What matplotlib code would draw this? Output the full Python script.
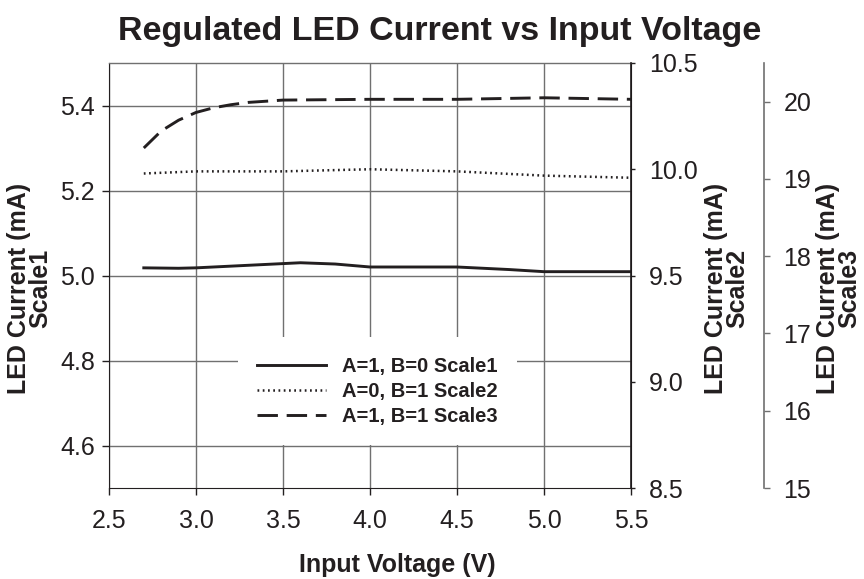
import matplotlib
matplotlib.use("Agg")
import matplotlib.pyplot as plt

# ---- data ----
# Scale1 (left axis): A=1, B=0
vin1 = [2.7, 2.9, 3.0, 3.3, 3.6, 3.8, 4.0, 4.5, 4.8, 5.0, 5.5]
led1 = [5.018, 5.017, 5.018, 5.024, 5.030, 5.027, 5.020, 5.020, 5.014, 5.009, 5.009]

# Scale2 (right axis): A=0, B=1
vin2 = [2.7, 3.0, 3.5, 4.0, 4.5, 5.0, 5.5]
led2 = [9.98, 9.99, 9.99, 10.0, 9.99, 9.97, 9.96]

# Scale3 (outer right axis): A=1, B=1
vin3 = [2.7, 2.8, 2.9, 3.0, 3.1, 3.2, 3.3, 3.5, 4.0, 4.5, 5.0, 5.5]
led3 = [19.40, 19.62, 19.76, 19.86, 19.92, 19.96, 19.99, 20.02, 20.03, 20.03, 20.05, 20.03]

xticks = [2.5, 3.0, 3.5, 4.0, 4.5, 5.0, 5.5]
yticks1 = [4.6, 4.8, 5.0, 5.2, 5.4]
yticks2 = [8.5, 9.0, 9.5, 10.0, 10.5]
yticks3 = [15, 16, 17, 18, 19, 20]

labels = ["A=1, B=0 Scale1", "A=0, B=1 Scale2", "A=1, B=1 Scale3"]

tickfont = ["Liberation Sans Narrow", "Liberation Sans"]
boldfont = ["Liberation Sans", "DejaVu Sans"]
ink = "#231f20"
gridc = "#707070"

fig = plt.figure(figsize=(8.64, 5.79), dpi=100)
ax1 = fig.add_axes([109/864, 1-488/579, 522/864, 425/579])
ax2 = ax1.twinx()
ax3 = ax1.twinx()
ax3.spines["right"].set_position(("axes", 1.255))

# lines
l1, = ax1.plot(vin1, led1, color=ink, lw=2.1, linestyle="-")
l2, = ax2.plot(vin2, led2, color=ink, lw=1.8, linestyle=(0, (0.7, 1.4)))
l3, = ax3.plot(vin3, led3, color=ink, lw=2.1, linestyle=(0, (7, 3)))

ax1.set_xlim(2.5, 5.5)
ax1.set_ylim(4.5, 5.5)
ax2.set_ylim(8.5, 10.5)
ax3.set_ylim(15, 20.5)

ax1.set_xticks(xticks)
ax1.set_xticklabels(["%.1f" % v for v in xticks])
ax1.set_yticks(yticks1)
ax1.set_yticklabels(["%.1f" % v for v in yticks1])
ax2.set_yticks(yticks2)
ax2.set_yticklabels(["%.1f" % v for v in yticks2])
ax3.set_yticks(yticks3)
ax3.set_yticklabels([str(v) for v in yticks3])

# grid only from the left scale
ax1.grid(True, color=gridc, lw=1.0)
ax1.set_axisbelow(True)

for ax in (ax1, ax2, ax3):
    ax.tick_params(direction="out", length=5, width=1.0, color=ink, labelsize=18, labelcolor=ink, pad=5)
    for t in ax.get_xticklabels() + ax.get_yticklabels():
        t.set_family(tickfont)
ax1.tick_params(axis="x", pad=10)
ax2.tick_params(axis="y", length=3, pad=10)
ax3.tick_params(axis="y", length=4, color=gridc, pad=10)

ax1.spines["left"].set_color(ink)
ax1.spines["bottom"].set_color(ink)
ax1.spines["top"].set_color(gridc)
ax1.spines["top"].set_linewidth(1.0)
ax2.spines["right"].set_color(ink)
ax2.spines["right"].set_linewidth(1.2)
ax3.spines["right"].set_color(gridc)
ax3.spines["right"].set_linewidth(1.2)
for ax in (ax2, ax3):
    ax.spines["top"].set_visible(False)
    ax.spines["left"].set_visible(False)
    ax.spines["bottom"].set_visible(False)

# legend sits over the grid, white box without border
leg = ax3.legend([l1, l2, l3], labels, loc="center", bbox_to_anchor=(0.514, 0.228),
                 frameon=True, fancybox=False, framealpha=1, edgecolor="none",
                 handlelength=3.4, handletextpad=0.8, labelspacing=0.3, borderpad=0.95,
                 prop={"family": boldfont, "weight": "bold", "size": 14.5})
for t in leg.get_texts():
    t.set_color(ink)

# titles and axis labels
fig.text(0.509, 1-40/579, "Regulated LED Current vs Input Voltage", ha="center", va="baseline",
         fontsize=24.5, fontweight="bold", family=boldfont, color=ink)
fig.text(397/864, 7/579, "Input Voltage (V)", ha="center", va="baseline",
         fontsize=18, fontweight="bold", family=boldfont, color=ink)
for xpos, s in [(30/864, "Scale1"), (727/864, "Scale2"), (839/864, "Scale3")]:
    fig.text(xpos, 1-288/579, "LED Current (mA)\n" + s, rotation=90, ha="center", va="center",
             multialignment="center", linespacing=0.85, fontsize=18, fontweight="bold",
             family=boldfont, color=ink)

fig.savefig("out.png", dpi=100, facecolor="white")
